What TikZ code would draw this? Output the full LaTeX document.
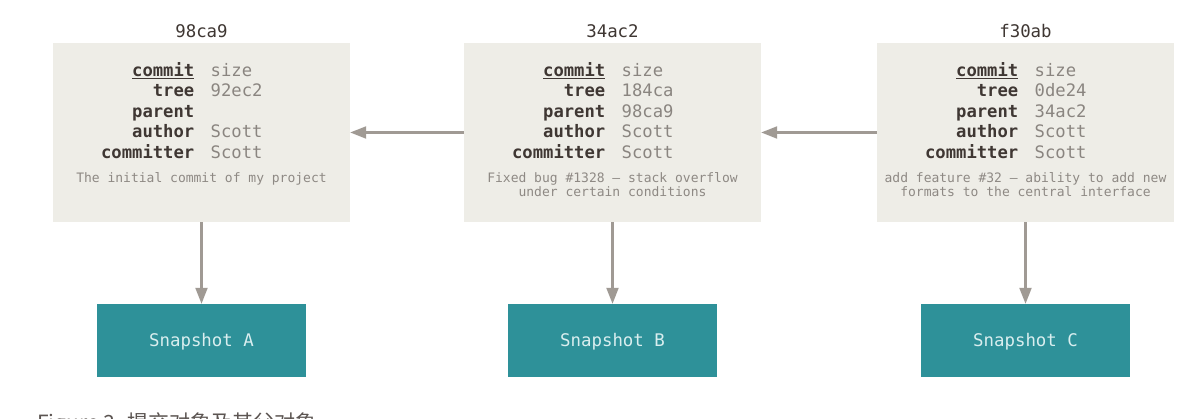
\documentclass[tikz,border=0pt]{standalone}
\usepackage{fontspec}
\setmonofont{DejaVu Sans Mono}
\newfontfamily\cjk{Noto Sans CJK SC}
\usetikzlibrary{arrows.meta}
\definecolor{boxbg}{HTML}{EEEDE7}
\definecolor{teal}{HTML}{2E9199}
\definecolor{arrowc}{HTML}{A09A94}
\definecolor{keyc}{HTML}{3F3733}
\definecolor{valc}{HTML}{8A8580}
\definecolor{msgc}{HTML}{8E8984}
\definecolor{snapt}{HTML}{D9EEEF}
\tikzset{
  commitbox/.style={fill=boxbg, minimum width=297pt, minimum height=179pt, inner sep=0pt},
  snapbox/.style={fill=teal, minimum width=209pt, minimum height=73pt, inner sep=0pt},
  snaplab/.style={text=snapt, font=\ttfamily\fontsize{17.4}{20}\selectfont, anchor=base, inner sep=0pt},
  titlelab/.style={font=\ttfamily\fontsize{17.4}{20}\selectfont, text=keyc, anchor=base, inner sep=0pt},
  keylab/.style={font=\ttfamily\bfseries\fontsize{17.2}{20}\selectfont, text=keyc, anchor=base east, inner sep=0pt},
  vallab/.style={font=\ttfamily\fontsize{17.2}{20}\selectfont, text=valc, anchor=base west, inner sep=0pt},
  msglab/.style={font=\ttfamily\fontsize{13}{14}\selectfont, text=msgc, anchor=base, inner sep=0pt},
  link/.style={draw=arrowc, line width=2.2pt, -{Triangle[width=12pt,length=16pt]}},
}
\newcommand{\commitobj}[7]{%
  % #1 name, #2 cx, #3 title, #4 tree, #5 parent, #6 msg line1, #7 msg line2
  \node[commitbox] (#1) at (#2,132.5) {};
  \node[titlelab] (#1t) at (#2,38) {#3};
  \node[keylab] (#1k1) at (#2-7,76.5) {\underline{commit}};
  \node[vallab] (#1v1) at (#2+9,76.5) {size};
  \node[keylab] (#1k2) at (#2-7,97) {tree};
  \node[vallab] (#1v2) at (#2+9,97) {#4};
  \node[keylab] (#1k3) at (#2-7,117.5) {parent};
  \node[vallab] (#1v3) at (#2+9,117.5) {#5};
  \node[keylab] (#1k4) at (#2-7,138) {author};
  \node[vallab] (#1v4) at (#2+9,138) {Scott};
  \node[keylab] (#1k5) at (#2-7,158.5) {committer};
  \node[vallab] (#1v5) at (#2+9,158.5) {Scott};
  \node[msglab] (#1m1) at (#2,182.5) {#6};
  \node[msglab] (#1m2) at (#2,196.5) {#7};
}
\begin{document}
\begin{tikzpicture}[x=1pt,y=-1pt]
\useasboundingbox (0,0) rectangle (1203,419);
\fill[white] (0,0) rectangle (1203,419);
\commitobj{c1}{201.5}{98ca9}{92ec2}{}{The initial commit of my project}{}
\commitobj{c2}{612.5}{34ac2}{184ca}{98ca9}{Fixed bug \#1328 – stack overflow}{under certain conditions}
\commitobj{c3}{1025.5}{f30ab}{0de24}{34ac2}{add feature \#32 – ability to add new}{formats to the central interface}
\node[snapbox] (sa) at (201.5,340.5) {};
\node[snapbox] (sb) at (612.5,340.5) {};
\node[snapbox] (sc) at (1025.5,340.5) {};
\node[snaplab] (sat) at (201.5,347) {Snapshot A};
\node[snaplab] (sbt) at (612.5,347) {Snapshot B};
\node[snaplab] (sct) at (1025.5,347) {Snapshot C};
\draw[link] (c2.west) -- (c1.east);
\draw[link] (c3.west) -- (c2.east);
\draw[link] (c1.south) -- (sa.north);
\draw[link] (c2.south) -- (sb.north);
\draw[link] (c3.south) -- (sc.north);
\node[anchor=base west, inner sep=0pt, text=keyc!85, font=\cjk\fontsize{21}{24}\selectfont] (cap) at (37,431) {Figure 3. 提交对象及其父对象};
\end{tikzpicture}
\end{document}
